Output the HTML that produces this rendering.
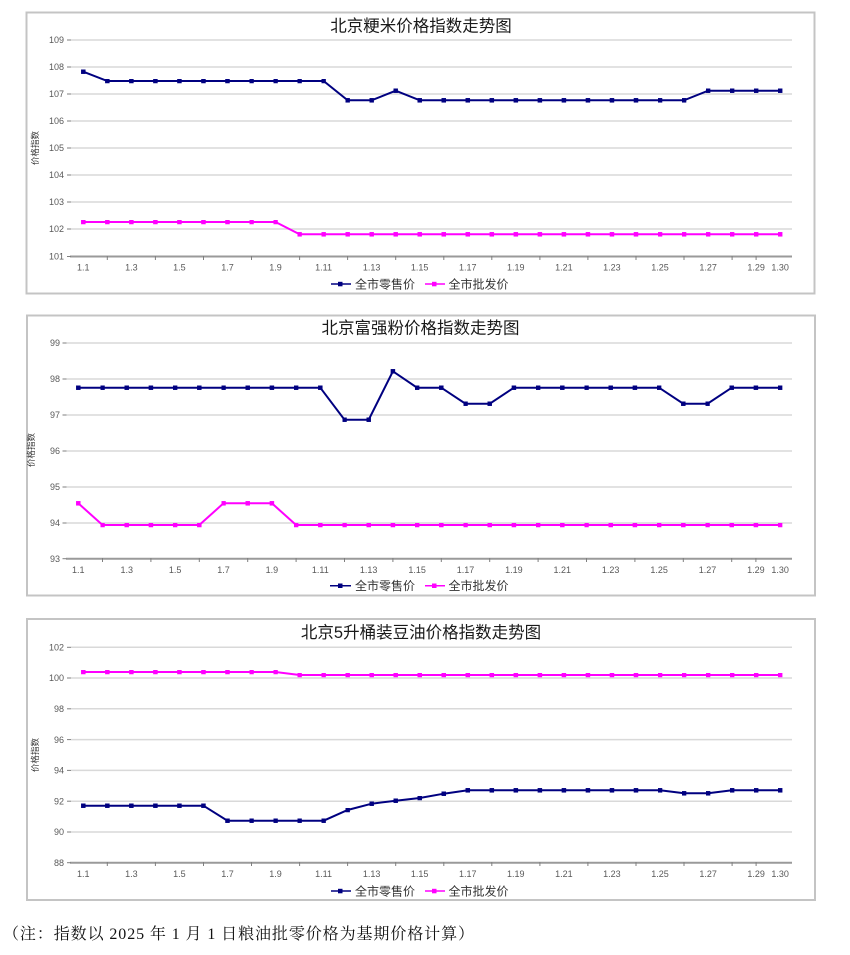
<!DOCTYPE html>
<html><head><meta charset="utf-8"><style>
html,body{margin:0;padding:0;background:#fff;width:850px;height:955px;overflow:hidden}
svg{display:block}
.t{font-family:"Liberation Sans","Noto Sans CJK SC",sans-serif;font-size:16.5px;fill:#1a1a1a;text-anchor:middle}
.yl{font-family:"Liberation Sans",sans-serif;font-size:9px;fill:#595959;text-anchor:end}
.xl{font-family:"Liberation Sans",sans-serif;font-size:9px;fill:#595959;text-anchor:middle}
.ax{font-family:"Liberation Sans","Noto Sans CJK SC",sans-serif;font-size:8.5px;fill:#333;text-anchor:middle}
.lg{font-family:"Liberation Sans","Noto Sans CJK SC",sans-serif;font-size:12px;fill:#333}
.fn{font-family:"Liberation Serif","Noto Serif CJK SC",serif;font-size:16px;fill:#111}
.g{stroke:#d9d9d9;stroke-width:1.5}
.a{stroke:#9a9a9a;stroke-width:2}
.tk{stroke:#7f7f7f;stroke-width:1}
.r{fill:none;stroke:#000080;stroke-width:2;marker-start:url(#mb);marker-mid:url(#mb);marker-end:url(#mb)}
.w{fill:none;stroke:#ff00ff;stroke-width:2;marker-start:url(#mp);marker-mid:url(#mp);marker-end:url(#mp)}
</style></head><body>
<svg width="850" height="955" viewBox="0 0 850 955" xmlns="http://www.w3.org/2000/svg">
<defs>
<marker id="mb" markerUnits="userSpaceOnUse" markerWidth="5" markerHeight="5" refX="2.25" refY="2.25"><rect width="4.5" height="4.5" fill="#000080"/></marker>
<marker id="mp" markerUnits="userSpaceOnUse" markerWidth="5" markerHeight="5" refX="2.25" refY="2.25"><rect width="4.5" height="4.5" fill="#ff00ff"/></marker>
</defs>

<!-- ============ CHART 1 ============ -->
<rect x="26.5" y="12.5" width="788" height="281" fill="#fff" stroke="#c4c4c4" stroke-width="2"/>
<text class="t" x="421" y="31.3">北京粳米价格指数走势图</text>
<g>
<line class="g" x1="71" y1="40" x2="792" y2="40"/>
<line class="g" x1="71" y1="67" x2="792" y2="67"/>
<line class="g" x1="71" y1="94" x2="792" y2="94"/>
<line class="g" x1="71" y1="121" x2="792" y2="121"/>
<line class="g" x1="71" y1="148" x2="792" y2="148"/>
<line class="g" x1="71" y1="175" x2="792" y2="175"/>
<line class="g" x1="71" y1="202" x2="792" y2="202"/>
<line class="g" x1="71" y1="229" x2="792" y2="229"/>
<line class="a" x1="70" y1="256.5" x2="792" y2="256.5"/>
</g>
<g class="tk">
<line x1="67" y1="40" x2="71" y2="40"/><line x1="67" y1="67" x2="71" y2="67"/><line x1="67" y1="94" x2="71" y2="94"/><line x1="67" y1="121" x2="71" y2="121"/><line x1="67" y1="148" x2="71" y2="148"/><line x1="67" y1="175" x2="71" y2="175"/><line x1="67" y1="202" x2="71" y2="202"/><line x1="67" y1="229" x2="71" y2="229"/><line x1="67" y1="256.5" x2="71" y2="256.5"/>
<line x1="107.3" y1="256" x2="107.3" y2="260"/><line x1="155.4" y1="256" x2="155.4" y2="260"/><line x1="203.5" y1="256" x2="203.5" y2="260"/><line x1="251.5" y1="256" x2="251.5" y2="260"/><line x1="299.6" y1="256" x2="299.6" y2="260"/><line x1="347.6" y1="256" x2="347.6" y2="260"/><line x1="395.7" y1="256" x2="395.7" y2="260"/><line x1="443.8" y1="256" x2="443.8" y2="260"/><line x1="491.8" y1="256" x2="491.8" y2="260"/><line x1="539.9" y1="256" x2="539.9" y2="260"/><line x1="587.9" y1="256" x2="587.9" y2="260"/><line x1="636" y1="256" x2="636" y2="260"/><line x1="684" y1="256" x2="684" y2="260"/><line x1="732.1" y1="256" x2="732.1" y2="260"/><line x1="756.1" y1="256" x2="756.1" y2="260"/>
</g>
<g class="yl">
<text x="64" y="43.2">109</text><text x="64" y="70.2">108</text><text x="64" y="97.2">107</text><text x="64" y="124.2">106</text><text x="64" y="151.2">105</text><text x="64" y="178.2">104</text><text x="64" y="205.2">103</text><text x="64" y="232.2">102</text><text x="64" y="259.7">101</text>
</g>
<g class="xl">
<text x="83.3" y="270.5">1.1</text><text x="131.4" y="270.5">1.3</text><text x="179.4" y="270.5">1.5</text><text x="227.5" y="270.5">1.7</text><text x="275.5" y="270.5">1.9</text><text x="323.6" y="270.5">1.11</text><text x="371.7" y="270.5">1.13</text><text x="419.7" y="270.5">1.15</text><text x="467.8" y="270.5">1.17</text><text x="515.8" y="270.5">1.19</text><text x="563.9" y="270.5">1.21</text><text x="611.9" y="270.5">1.23</text><text x="660" y="270.5">1.25</text><text x="708.1" y="270.5">1.27</text><text x="756.1" y="270.5">1.29</text><text x="780.2" y="270.5">1.30</text>
</g>
<text class="ax" transform="translate(38,148) rotate(-90)">价格指数</text>
<polyline class="r" points="83.3,71.7 107.33,81 131.36,81 155.39,81 179.42,81 203.45,81 227.48,81 251.51,81 275.54,81 299.57,81 323.6,81 347.63,100.3 371.66,100.3 395.69,90.7 419.72,100.3 443.75,100.3 467.78,100.3 491.81,100.3 515.84,100.3 539.87,100.3 563.9,100.3 587.93,100.3 611.96,100.3 635.99,100.3 660.02,100.3 684.05,100.3 708.08,90.7 732.11,90.7 756.14,90.7 780.17,90.7"/>
<polyline class="w" points="83.3,222 107.33,222 131.36,222 155.39,222 179.42,222 203.45,222 227.48,222 251.51,222 275.54,222 299.57,234.3 323.6,234.3 347.63,234.3 371.66,234.3 395.69,234.3 419.72,234.3 443.75,234.3 467.78,234.3 491.81,234.3 515.84,234.3 539.87,234.3 563.9,234.3 587.93,234.3 611.96,234.3 635.99,234.3 660.02,234.3 684.05,234.3 708.08,234.3 732.11,234.3 756.14,234.3 780.17,234.3"/>
<g>
<line x1="331" y1="284" x2="351" y2="284" stroke="#000080" stroke-width="1.5"/><rect x="338" y="281.8" width="4.5" height="4.5" fill="#000080"/>
<text class="lg" x="355" y="288.5">全市零售价</text>
<line x1="425" y1="284" x2="445" y2="284" stroke="#ff00ff" stroke-width="1.5"/><rect x="432" y="281.8" width="4.5" height="4.5" fill="#ff00ff"/>
<text class="lg" x="448.5" y="288.5">全市批发价</text>
</g>

<!-- ============ CHART 2 ============ -->
<rect x="27" y="315.5" width="788" height="280" fill="#fff" stroke="#c4c4c4" stroke-width="2"/>
<text class="t" x="420.5" y="333.3">北京富强粉价格指数走势图</text>
<g>
<line class="g" x1="66.5" y1="343" x2="792" y2="343"/>
<line class="g" x1="66.5" y1="379" x2="792" y2="379"/>
<line class="g" x1="66.5" y1="415" x2="792" y2="415"/>
<line class="g" x1="66.5" y1="451" x2="792" y2="451"/>
<line class="g" x1="66.5" y1="487" x2="792" y2="487"/>
<line class="g" x1="66.5" y1="523" x2="792" y2="523"/>
<line class="a" x1="66" y1="558.7" x2="792" y2="558.7"/>
</g>
<g class="tk">
<line x1="62.5" y1="343" x2="66.5" y2="343"/><line x1="62.5" y1="379" x2="66.5" y2="379"/><line x1="62.5" y1="415" x2="66.5" y2="415"/><line x1="62.5" y1="451" x2="66.5" y2="451"/><line x1="62.5" y1="487" x2="66.5" y2="487"/><line x1="62.5" y1="523" x2="66.5" y2="523"/><line x1="62.5" y1="558.7" x2="66.5" y2="558.7"/>
<line x1="102.5" y1="558" x2="102.5" y2="562"/><line x1="150.9" y1="558" x2="150.9" y2="562"/><line x1="199.3" y1="558" x2="199.3" y2="562"/><line x1="247.7" y1="558" x2="247.7" y2="562"/><line x1="296.1" y1="558" x2="296.1" y2="562"/><line x1="344.5" y1="558" x2="344.5" y2="562"/><line x1="392.9" y1="558" x2="392.9" y2="562"/><line x1="441.3" y1="558" x2="441.3" y2="562"/><line x1="489.7" y1="558" x2="489.7" y2="562"/><line x1="538.1" y1="558" x2="538.1" y2="562"/><line x1="586.5" y1="558" x2="586.5" y2="562"/><line x1="634.9" y1="558" x2="634.9" y2="562"/><line x1="683.3" y1="558" x2="683.3" y2="562"/><line x1="731.7" y1="558" x2="731.7" y2="562"/><line x1="755.9" y1="558" x2="755.9" y2="562"/>
</g>
<g class="yl">
<text x="60" y="346.2">99</text><text x="60" y="382.2">98</text><text x="60" y="418.2">97</text><text x="60" y="454.2">96</text><text x="60" y="490.2">95</text><text x="60" y="526.2">94</text><text x="60" y="561.9">93</text>
</g>
<g class="xl">
<text x="78.3" y="573">1.1</text><text x="126.7" y="573">1.3</text><text x="175.1" y="573">1.5</text><text x="223.5" y="573">1.7</text><text x="271.9" y="573">1.9</text><text x="320.3" y="573">1.11</text><text x="368.7" y="573">1.13</text><text x="417.1" y="573">1.15</text><text x="465.5" y="573">1.17</text><text x="513.9" y="573">1.19</text><text x="562.3" y="573">1.21</text><text x="610.7" y="573">1.23</text><text x="659.1" y="573">1.25</text><text x="707.5" y="573">1.27</text><text x="755.9" y="573">1.29</text><text x="780.1" y="573">1.30</text>
</g>
<text class="ax" transform="translate(34,450) rotate(-90)">价格指数</text>
<polyline class="r" points="78.3,387.7 102.5,387.7 126.7,387.7 150.9,387.7 175.1,387.7 199.3,387.7 223.5,387.7 247.7,387.7 271.9,387.7 296.1,387.7 320.3,387.7 344.5,419.7 368.7,419.7 392.9,371.3 417.1,387.7 441.3,387.7 465.5,403.7 489.7,403.7 513.9,387.7 538.1,387.7 562.3,387.7 586.5,387.7 610.7,387.7 634.9,387.7 659.1,387.7 683.3,403.7 707.5,403.7 731.7,387.7 755.9,387.7 780.1,387.7"/>
<polyline class="w" points="78.3,503.3 102.5,525 126.7,525 150.9,525 175.1,525 199.3,525 223.5,503.3 247.7,503.3 271.9,503.3 296.1,525 320.3,525 344.5,525 368.7,525 392.9,525 417.1,525 441.3,525 465.5,525 489.7,525 513.9,525 538.1,525 562.3,525 586.5,525 610.7,525 634.9,525 659.1,525 683.3,525 707.5,525 731.7,525 755.9,525 780.1,525"/>
<g>
<line x1="330" y1="585.7" x2="351" y2="585.7" stroke="#000080" stroke-width="1.5"/><rect x="338" y="583.5" width="4.5" height="4.5" fill="#000080"/>
<text class="lg" x="355" y="590.2">全市零售价</text>
<line x1="425" y1="585.7" x2="445" y2="585.7" stroke="#ff00ff" stroke-width="1.5"/><rect x="432" y="583.5" width="4.5" height="4.5" fill="#ff00ff"/>
<text class="lg" x="448.5" y="590.2">全市批发价</text>
</g>

<!-- ============ CHART 3 ============ -->
<rect x="27" y="619" width="788" height="281" fill="#fff" stroke="#c4c4c4" stroke-width="2"/>
<text class="t" x="421" y="638">北京5升桶装豆油价格指数走势图</text>
<g>
<line class="g" x1="71" y1="647.3" x2="792" y2="647.3"/>
<line class="g" x1="71" y1="678" x2="792" y2="678"/>
<line class="g" x1="71" y1="708.8" x2="792" y2="708.8"/>
<line class="g" x1="71" y1="739.6" x2="792" y2="739.6"/>
<line class="g" x1="71" y1="770.4" x2="792" y2="770.4"/>
<line class="g" x1="71" y1="801.2" x2="792" y2="801.2"/>
<line class="g" x1="71" y1="832" x2="792" y2="832"/>
<line class="a" x1="70" y1="862.7" x2="792" y2="862.7"/>
</g>
<g class="tk">
<line x1="67" y1="647.3" x2="71" y2="647.3"/><line x1="67" y1="678" x2="71" y2="678"/><line x1="67" y1="708.8" x2="71" y2="708.8"/><line x1="67" y1="739.6" x2="71" y2="739.6"/><line x1="67" y1="770.4" x2="71" y2="770.4"/><line x1="67" y1="801.2" x2="71" y2="801.2"/><line x1="67" y1="832" x2="71" y2="832"/><line x1="67" y1="862.7" x2="71" y2="862.7"/>
<line x1="107.3" y1="862" x2="107.3" y2="866"/><line x1="155.4" y1="862" x2="155.4" y2="866"/><line x1="203.5" y1="862" x2="203.5" y2="866"/><line x1="251.5" y1="862" x2="251.5" y2="866"/><line x1="299.6" y1="862" x2="299.6" y2="866"/><line x1="347.6" y1="862" x2="347.6" y2="866"/><line x1="395.7" y1="862" x2="395.7" y2="866"/><line x1="443.8" y1="862" x2="443.8" y2="866"/><line x1="491.8" y1="862" x2="491.8" y2="866"/><line x1="539.9" y1="862" x2="539.9" y2="866"/><line x1="587.9" y1="862" x2="587.9" y2="866"/><line x1="636" y1="862" x2="636" y2="866"/><line x1="684" y1="862" x2="684" y2="866"/><line x1="732.1" y1="862" x2="732.1" y2="866"/><line x1="756.1" y1="862" x2="756.1" y2="866"/>
</g>
<g class="yl">
<text x="64" y="650.5">102</text><text x="64" y="681.2">100</text><text x="64" y="712">98</text><text x="64" y="742.8">96</text><text x="64" y="773.6">94</text><text x="64" y="804.4">92</text><text x="64" y="835.2">90</text><text x="64" y="865.9">88</text>
</g>
<g class="xl">
<text x="83.3" y="877">1.1</text><text x="131.4" y="877">1.3</text><text x="179.4" y="877">1.5</text><text x="227.5" y="877">1.7</text><text x="275.5" y="877">1.9</text><text x="323.6" y="877">1.11</text><text x="371.7" y="877">1.13</text><text x="419.7" y="877">1.15</text><text x="467.8" y="877">1.17</text><text x="515.8" y="877">1.19</text><text x="563.9" y="877">1.21</text><text x="611.9" y="877">1.23</text><text x="660" y="877">1.25</text><text x="708.1" y="877">1.27</text><text x="756.1" y="877">1.29</text><text x="780.2" y="877">1.30</text>
</g>
<text class="ax" transform="translate(38,755) rotate(-90)">价格指数</text>
<polyline class="w" points="83.3,672 107.33,672 131.36,672 155.39,672 179.42,672 203.45,672 227.48,672 251.51,672 275.54,672 299.57,675 323.6,675 347.63,675 371.66,675 395.69,675 419.72,675 443.75,675 467.78,675 491.81,675 515.84,675 539.87,675 563.9,675 587.93,675 611.96,675 635.99,675 660.02,675 684.05,675 708.08,675 732.11,675 756.14,675 780.17,675"/>
<polyline class="r" points="83.3,805.7 107.33,805.7 131.36,805.7 155.39,805.7 179.42,805.7 203.45,805.7 227.48,820.7 251.51,820.7 275.54,820.7 299.57,820.7 323.6,820.7 347.63,810 371.66,803.7 395.69,800.7 419.72,798 443.75,793.7 467.78,790.3 491.81,790.3 515.84,790.3 539.87,790.3 563.9,790.3 587.93,790.3 611.96,790.3 635.99,790.3 660.02,790.3 684.05,793.3 708.08,793.3 732.11,790.3 756.14,790.3 780.17,790.3"/>
<g>
<line x1="331" y1="891" x2="351" y2="891" stroke="#000080" stroke-width="1.5"/><rect x="338" y="888.8" width="4.5" height="4.5" fill="#000080"/>
<text class="lg" x="355" y="895.5">全市零售价</text>
<line x1="425" y1="891" x2="445" y2="891" stroke="#ff00ff" stroke-width="1.5"/><rect x="432" y="888.8" width="4.5" height="4.5" fill="#ff00ff"/>
<text class="lg" x="448.5" y="895.5">全市批发价</text>
</g>

<!-- footnote -->
<text class="fn" x="3" y="939" textLength="471" lengthAdjust="spacing">（注：指数以 2025 年 1 月 1 日粮油批零价格为基期价格计算）</text>
</svg>
</body></html>
